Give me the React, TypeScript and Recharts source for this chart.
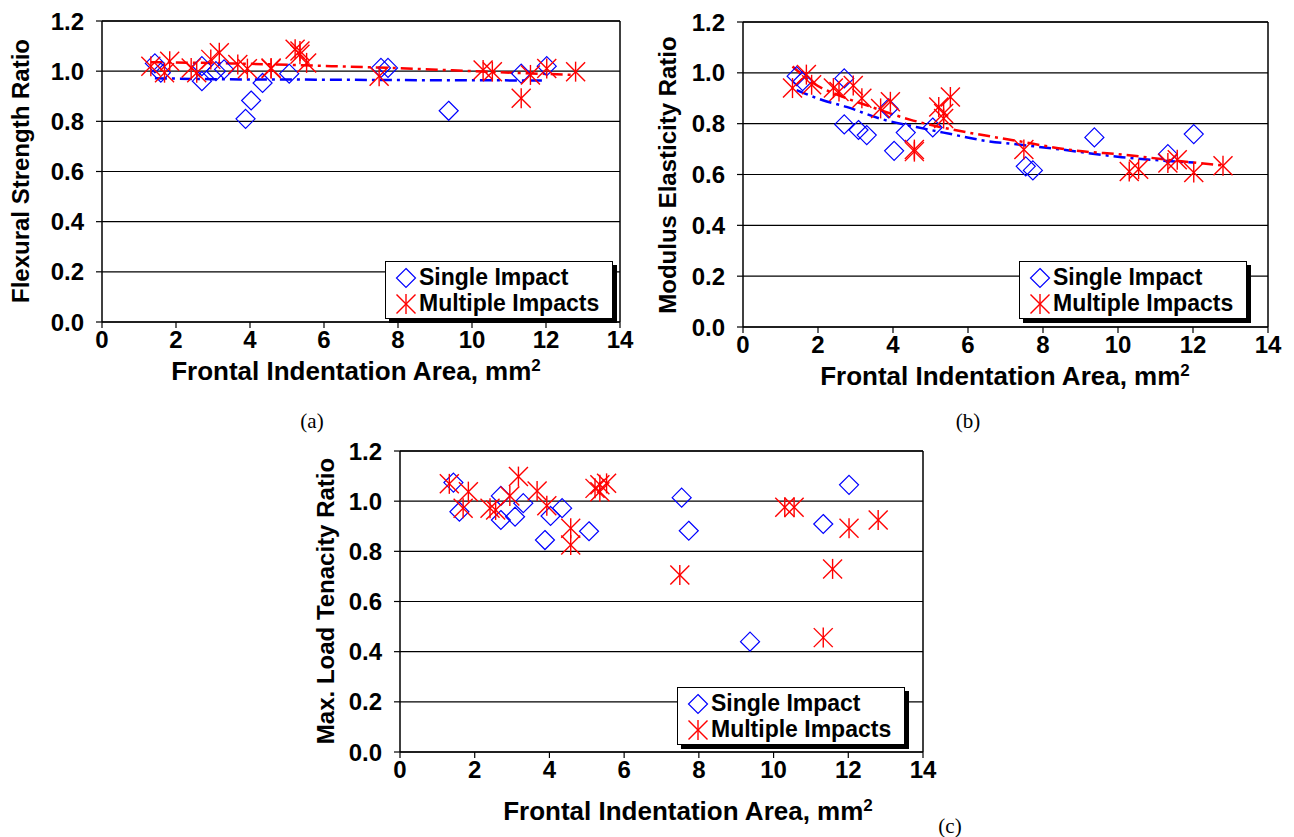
import React from "react";
import {
  ComposedChart,
  Scatter,
  Line,
  XAxis,
  YAxis,
  CartesianGrid,
  ReferenceLine,
} from "recharts";

// ---------- data ----------
const xTicks = [0, 2, 4, 6, 8, 10, 12, 14];
const yTicks = [0, 0.2, 0.4, 0.6, 0.8, 1.0, 1.2];

const singleX = [1.43, 1.59, 2.7, 2.7, 3.08, 3.3, 3.88, 4.03, 4.34, 5.06, 7.54, 7.73, 9.37, 11.33, 12.02];
const multiX = [1.32, 1.69, 1.83, 2.41, 2.56, 2.94, 3.17, 3.67, 3.93, 4.57, 4.57, 5.22, 5.35, 5.35, 5.53, 7.49, 10.3, 10.55, 11.33, 11.58, 12.02, 12.8];

// (a) Flexural strength ratio
const flexSingle = [1.031, 0.994, 1.02, 0.96, 1.0, 1.007, 0.81, 0.883, 0.953, 0.99, 1.013, 1.013, 0.842, 0.99, 1.02];
const flexMulti = [1.02, 0.994, 1.04, 1.013, 0.994, 1.047, 1.073, 1.027, 1.01, 1.013, 1.01, 1.087, 1.067, 1.08, 1.033, 0.98, 1.005, 0.998, 0.892, 0.985, 1.011, 0.998];
const flexSingleTrendX = [1.43, 3, 6, 9, 12.02];
const flexSingleTrendY = [0.972, 0.968, 0.966, 0.964, 0.963];
const flexMultiTrendX = [1.32, 3.5, 6.2, 8.9, 10, 12.8];
const flexMultiTrendY = [1.036, 1.031, 1.02, 1.007, 1.0, 0.985];

// (b) Modulus elasticity ratio
const modSingle = [0.987, 0.967, 0.978, 0.797, 0.775, 0.755, 0.86, 0.693, 0.765, 0.785, 0.632, 0.616, 0.746, 0.68, 0.759];
const modMulti = [0.94, 0.993, 0.953, 0.94, 0.927, 0.95, 0.9, 0.86, 0.886, 0.698, 0.69, 0.866, 0.84, 0.82, 0.905, 0.698, 0.612, 0.621, 0.645, 0.658, 0.608, 0.634];
const modSingleTrendX = [1.43, 2.13, 2.76, 3.65, 4.62, 5.51, 6.4, 7.46, 8.5, 10.1, 12.02];
const modSingleTrendY = [0.932, 0.892, 0.866, 0.82, 0.787, 0.76, 0.734, 0.716, 0.698, 0.668, 0.647];
const modMultiTrendX = [1.32, 1.87, 2.76, 3.38, 4.45, 5.16, 6.05, 7.2, 8.76, 10.29, 11.31, 12.8];
const modMultiTrendY = [1.025, 0.96, 0.9, 0.868, 0.816, 0.79, 0.764, 0.735, 0.696, 0.676, 0.658, 0.636];

// (c) Max. load tenacity ratio
const tenSingle = [1.074, 0.958, 1.021, 0.925, 0.938, 0.992, 0.845, 0.941, 0.972, 0.88, 1.014, 0.882, 0.44, 0.909, 1.065];
const tenMulti = [1.069, 0.972, 1.038, 0.972, 0.965, 1.021, 1.098, 1.041, 0.982, 0.892, 0.825, 1.051, 1.065, 1.038, 1.071, 0.706, 0.976, 0.976, 0.456, 0.73, 0.892, 0.925];

const seriesNames = ["Single Impact", "Multiple Impacts"];

const zip = (xs: number[], ys: number[]) => xs.map((x, i) => ({ x, y: ys[i] }));

// ---------- shapes ----------
const BLUE = "#0000FF";
const RED = "#FF0000";

const Diamond = (props: any) => {
  const { cx, cy } = props;
  if (cx == null || cy == null) return null;
  const r = 9.5;
  return (
    <path
      d={`M${cx},${cy - r}L${cx + r},${cy}L${cx},${cy + r}L${cx - r},${cy}Z`}
      fill="none"
      stroke={BLUE}
      strokeWidth={1.2}
    />
  );
};

const Star = (props: any) => {
  const { cx, cy } = props;
  if (cx == null || cy == null) return null;
  const r = 10;
  const d = 9.5;
  return (
    <g stroke={RED} strokeWidth={1.4} fill="none">
      <line x1={cx - d} y1={cy - d} x2={cx + d} y2={cy + d} />
      <line x1={cx - d} y1={cy + d} x2={cx + d} y2={cy - d} />
      <line x1={cx} y1={cy - r} x2={cx} y2={cy + r} />
    </g>
  );
};

const FONT = "'Liberation Sans', Arial, sans-serif";

const tickStyle = { fontFamily: FONT, fontWeight: 700, fontSize: 24, fill: "#000" };

type PanelProps = {
  left: number;
  top: number;
  width: number;
  height: number;
  margin: { top: number; right: number; left: number; bottom: number };
  single: { x: number; y: number }[];
  multi: { x: number; y: number }[];
  singleTrend?: { x: number; y: number }[];
  multiTrend?: { x: number; y: number }[];
};

const Panel = (p: PanelProps) => (
  <div style={{ position: "absolute", left: p.left, top: p.top }}>
    <ComposedChart width={p.width} height={p.height} margin={p.margin}>
      <CartesianGrid vertical={false} stroke="#000" strokeWidth={1.2} horizontalValues={yTicks} />
      <XAxis
        type="number"
        dataKey="x"
        domain={[0, 14]}
        ticks={xTicks}
        interval={0}
        allowDataOverflow
        height={40}
        tick={tickStyle}
        tickSize={6}
        tickMargin={3}
        stroke="#000"
        axisLine={{ stroke: "#000", strokeWidth: 1.5 }}
        tickLine={{ stroke: "#000", strokeWidth: 1.2 }}
      />
      <YAxis
        type="number"
        dataKey="y"
        domain={[0, 1.2]}
        ticks={yTicks}
        interval={0}
        allowDataOverflow
        width={60}
        tick={tickStyle}
        tickSize={6}
        tickMargin={12}
        tickFormatter={(v: number) => v.toFixed(1)}
        axisLine={{ stroke: "#000", strokeWidth: 1.5 }}
        tickLine={{ stroke: "#000", strokeWidth: 1.2 }}
      />
      <ReferenceLine x={14} stroke="#000" strokeWidth={1.5} />
      <ReferenceLine y={1.2} stroke="#000" strokeWidth={1.5} />
      {p.singleTrend && (
        <Line
          data={p.singleTrend}
          dataKey="y"
          type="monotone"
          stroke={BLUE}
          strokeWidth={2.5}
          strokeDasharray="12 5 3 5"
          dot={false}
          activeDot={false}
          isAnimationActive={false}
        />
      )}
      {p.multiTrend && (
        <Line
          data={p.multiTrend}
          dataKey="y"
          type="monotone"
          stroke={RED}
          strokeWidth={2.5}
          strokeDasharray="12 5 3 5"
          dot={false}
          activeDot={false}
          isAnimationActive={false}
        />
      )}
      <Scatter name={seriesNames[0]} data={p.single} dataKey="y" shape={<Diamond />} isAnimationActive={false} />
      <Scatter name={seriesNames[1]} data={p.multi} dataKey="y" shape={<Star />} isAnimationActive={false} />
    </ComposedChart>
  </div>
);

const LegendBox = ({ left, top }: { left: number; top: number }) => (
  <div
    style={{
      position: "absolute",
      left,
      top,
      width: 226,
      height: 56,
      border: "1.5px solid #000",
      background: "#fff",
      boxShadow: "4px 4px 0 #000",
      fontFamily: FONT,
      fontWeight: 700,
      fontSize: 23,
      color: "#000",
    }}
  >
    <svg style={{ position: "absolute", left: 0, top: 0 }} width={40} height={56}>
      <Diamond cx={20} cy={16} />
      <Star cx={20} cy={42} />
    </svg>
    <div style={{ position: "absolute", left: 33, top: 2, lineHeight: "26px", whiteSpace: "nowrap" }}>{seriesNames[0]}</div>
    <div style={{ position: "absolute", left: 33, top: 28, lineHeight: "26px", whiteSpace: "nowrap" }}>{seriesNames[1]}</div>
  </div>
);

const XTitle = ({ cx, cy }: { cx: number; cy: number }) => (
  <div
    style={{
      position: "absolute",
      left: cx - 250,
      top: cy - 14,
      width: 500,
      textAlign: "center",
      fontFamily: FONT,
      fontWeight: 700,
      fontSize: 26,
      lineHeight: "28px",
      whiteSpace: "nowrap",
    }}
  >
    Frontal Indentation Area, mm<sup style={{ fontSize: 17, verticalAlign: "top", position: "relative", top: -5 }}>2</sup>
  </div>
);

const YTitle = ({ cx, cy, text }: { cx: number; cy: number; text: string }) => (
  <div
    style={{
      position: "absolute",
      left: cx - 200,
      top: cy - 14,
      width: 400,
      textAlign: "center",
      fontFamily: FONT,
      fontWeight: 700,
      fontSize: 24,
      lineHeight: "28px",
      whiteSpace: "nowrap",
      transform: "rotate(-90deg)",
    }}
  >
    {text}
  </div>
);

const PanelLabel = ({ cx, cy, text }: { cx: number; cy: number; text: string }) => (
  <div
    style={{
      position: "absolute",
      left: cx - 30,
      top: cy - 12,
      width: 60,
      textAlign: "center",
      fontFamily: "'Liberation Serif', 'Times New Roman', serif",
      fontSize: 21,
      lineHeight: "24px",
    }}
  >
    {text}
  </div>
);

export default function App() {
  return (
    <div style={{ position: "absolute", left: 0, top: 0, width: 1294, height: 837, background: "#fff", overflow: "hidden" }}>
      <Panel
        left={0}
        top={0}
        width={640}
        height={400}
        margin={{ top: 21, right: 20, left: 42, bottom: 38 }}
        single={zip(singleX, flexSingle)}
        multi={zip(multiX, flexMulti)}
        singleTrend={zip(flexSingleTrendX, flexSingleTrendY)}
        multiTrend={zip(flexMultiTrendX, flexMultiTrendY)}
      />
      <Panel
        left={640}
        top={0}
        width={654}
        height={400}
        margin={{ top: 22, right: 26, left: 43, bottom: 33 }}
        single={zip(singleX, modSingle)}
        multi={zip(multiX, modMulti)}
        singleTrend={zip(modSingleTrendX, modSingleTrendY)}
        multiTrend={zip(modMultiTrendX, modMultiTrendY)}
      />
      <Panel
        left={290}
        top={430}
        width={650}
        height={400}
        margin={{ top: 21, right: 17, left: 50, bottom: 38 }}
        single={zip(singleX, tenSingle)}
        multi={zip(multiX, tenMulti)}
      />
      <LegendBox left={385} top={261} />
      <LegendBox left={1019} top={261} />
      <LegendBox left={677} top={687} />

      <YTitle cx={21} cy={171} text="Flexural Strength Ratio" />
      <YTitle cx={668} cy={175} text="Modulus Elasticity Ratio" />
      <YTitle cx={326} cy={601} text="Max. Load Tenacity Ratio" />

      <XTitle cx={356} cy={371} />
      <XTitle cx={1005} cy={376} />
      <XTitle cx={688} cy={811} />

      <PanelLabel cx={312} cy={421} text="(a)" />
      <PanelLabel cx={968} cy={421} text="(b)" />
      <PanelLabel cx={950} cy={826} text="(c)" />
    </div>
  );
}
